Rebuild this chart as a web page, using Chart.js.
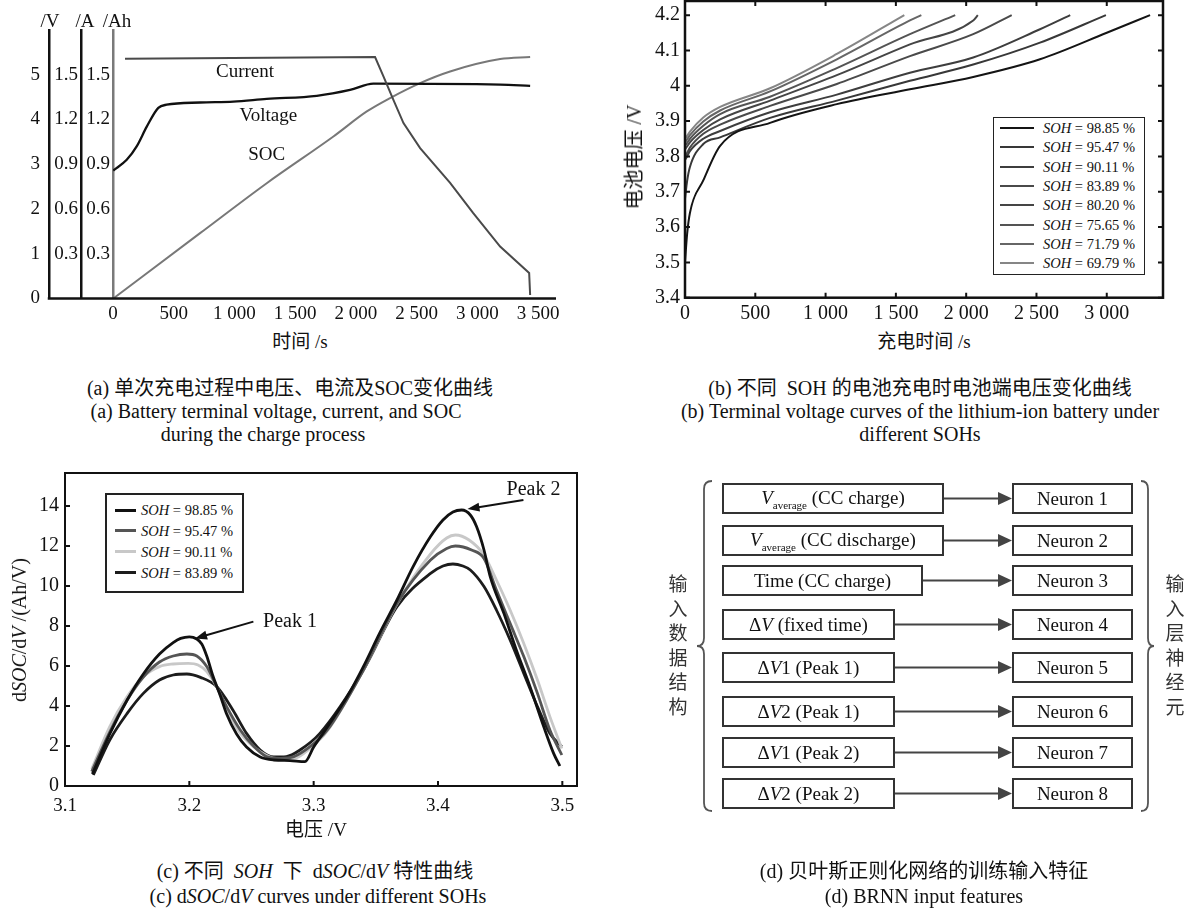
<!DOCTYPE html>
<html>
<head>
<meta charset="utf-8">
<title>charge curves</title>
<script src="https://cdn.jsdelivr.net/npm/chart.js@4/dist/chart.umd.min.js"></script>
<style>
body { margin: 0; background: #fff; }
#page { position: relative; width: 1190px; height: 913px; overflow: hidden; background: #fff;
        font-family: "Liberation Serif", "Noto Sans CJK SC", serif; color: #111; }
canvas { position: absolute; }
.t { position: absolute; white-space: nowrap; transform: translate(-50%, -50%); line-height: 1; }
.rot { transform: translate(-50%, -50%) rotate(-90deg); }
.leg { position: absolute; background: #fff; box-sizing: border-box; border: 1.5px solid #222; }
.leg .ln { position: absolute; }
.leg .tx { position: absolute; white-space: nowrap; line-height: 1; transform: translateY(-50%); }
.box { position: absolute; box-sizing: border-box; border: 2px solid #333; height: 31px;
       display: flex; align-items: center; justify-content: center; font-size: 19px; white-space: nowrap;
       font-family: "Liberation Serif", serif; color: #111; }
.box sub { font-size: 11px; vertical-align: -5px; }
.vt { position: absolute; width: 20px; font-size: 19px; line-height: 24.5px; text-align: center;
      font-family: "Noto Sans CJK SC", sans-serif; color: #333; }
</style>
</head>
<body>
<div id="page">
  <canvas id="ca" width="580" height="330" style="left:0;top:0"></canvas>
  <canvas id="cb" width="590" height="330" style="left:600px;top:0"></canvas>
  <canvas id="cc" width="590" height="360" style="left:0;top:460px"></canvas>

  <!-- (a) texts -->
  <div class="t" style="left:50px;top:20px;font-size:19px">/V</div>
  <div class="t" style="left:85px;top:20px;font-size:19px">/A</div>
  <div class="t" style="left:117px;top:20px;font-size:19px">/Ah</div>
  <div class="t" style="left:300px;top:341px;font-size:19px">时间 /s</div>
  <div class="t" style="left:290px;top:388px;font-size:20px">(a) 单次充电过程中电压、电流及SOC变化曲线</div>
  <div class="t" style="left:276px;top:411px;font-size:20px">(a) Battery terminal voltage, current, and SOC</div>
  <div class="t" style="left:263px;top:434px;font-size:20px">during the charge process</div>

  <!-- (b) texts -->
  <div class="t rot" style="left:634px;top:157px;font-size:20px">电池电压 /V</div>
  <div class="t" style="left:924px;top:341px;font-size:19px">充电时间 /s</div>
  <div class="t" style="left:920px;top:388px;font-size:20px">(b) 不同&nbsp; SOH 的电池充电时电池端电压变化曲线</div>
  <div class="t" style="left:920px;top:411px;font-size:20px">(b) Terminal voltage curves of the lithium-ion battery under</div>
  <div class="t" style="left:920px;top:434px;font-size:20px">different SOHs</div>
  <div class="leg" id="legb" style="left:993px;top:117px;width:152px;height:158px"></div>

  <!-- (c) texts -->
  <div class="t rot" style="left:19px;top:630px;font-size:20px">d<i>SOC</i>/d<i>V</i> /(Ah/V)</div>
  <div class="t" style="left:316px;top:829px;font-size:19px">电压 /V</div>
  <div class="t" style="left:315px;top:871px;font-size:20px">(c) 不同&nbsp; <i>SOH</i>&nbsp; 下&nbsp; d<i>SOC</i>/d<i>V</i> 特性曲线</div>
  <div class="t" style="left:318px;top:896px;font-size:20px">(c) d<i>SOC</i>/d<i>V</i> curves under different SOHs</div>
  <div class="leg" id="legc" style="left:105px;top:493px;width:139px;height:100px;border-width:2px"></div>

  <!-- (d) diagram -->
  <div id="diag"></div>
  <div class="t" style="left:924px;top:871px;font-size:20px">(d) 贝叶斯正则化网络的训练输入特征</div>
  <div class="t" style="left:924px;top:896px;font-size:20px">(d) BRNN input features</div>
</div>

<script>
// (a) single charge: current / voltage / SOC
var aXTicks = [0, 500, 1000, 1500, 2000, 2500, 3000, 3500];
var aVTicks = [0, 1, 2, 3, 4, 5];
var aATicks = [0.3, 0.6, 0.9, 1.2, 1.5];
var aCurTime = [99, 2158, 2227, 2309, 2392, 2529, 2776, 2965, 3188, 3427, 3435];
var aCurrent = [1.607, 1.619, 1.489, 1.332, 1.176, 1.008, 0.775, 0.574, 0.348, 0.171, 0.023];
var aVoltTime = [2, 113, 195, 278, 373, 442, 717, 991, 1266, 1678, 1952, 2144, 3188, 3435];
var aVoltage = [2.86, 3.10, 3.40, 3.84, 4.26, 4.33, 4.38, 4.40, 4.46, 4.53, 4.66, 4.80, 4.78, 4.75];
var aSocTime = [2, 717, 1266, 1815, 2090, 2282, 2529, 2776, 3188, 3435];
var aSoc = [0, 0.438, 0.773, 1.086, 1.254, 1.344, 1.444, 1.522, 1.605, 1.619];
var aNotes = ['Current', 'Voltage', 'SOC'];
var aNoteTime = [1087, 1279, 1266];
var aNoteVolt = [5.06, 4.08, 3.21];

// (b) terminal voltage for different SOH
var bSoh = ['98.85', '95.47', '90.11', '83.89', '80.20', '75.65', '71.79', '69.79'];
var bXTicks = [0, 500, 1000, 1500, 2000, 2500, 3000];
var bYTicks = [3.4, 3.5, 3.6, 3.7, 3.8, 3.9, 4.0, 4.1, 4.2];
var bTimes = [0, 15, 35, 130, 250, 605, 1080, 1600, 2050, 2525, 3000];
var bV9885 = [3.50, 3.58, 3.64, 3.732, 3.83, 3.895, 3.948, 3.990, 4.025, 4.075, 4.150];
var bV9547 = [3.68, 3.73, 3.77, 3.835, 3.854, 3.909, 3.958, 4.014, 4.060, 4.122, null];
var bV9011 = [3.79, 3.80, 3.815, 3.850, 3.872, 3.925, 3.975, 4.037, 4.080, 4.160, null];
var bV8389 = [3.80, 3.81, 3.825, 3.864, 3.890, 3.943, 4.005, 4.084, 4.146, null, null];
var bV8020 = [3.82, 3.828, 3.84, 3.875, 3.905, 3.958, 4.030, 4.117, 4.185, null, null];
var bV7565 = [3.83, 3.838, 3.85, 3.887, 3.920, 3.969, 4.050, 4.146, null, null, null];
var bV7179 = [3.84, 3.848, 3.86, 3.899, 3.930, 3.984, 4.075, 4.185, null, null, null];
var bV6979 = [3.85, 3.858, 3.87, 3.910, 3.940, 3.993, 4.090, null, null, null, null];
var bEndTime = [3308, 2994, 2740, 2324, 2083, 1922, 1681, 1560];
var bEndVolt = [4.2, 4.2, 4.2, 4.2, 4.2, 4.2, 4.2, 4.2];

// (c) dSOC/dV
var cSoh = ['98.85', '95.47', '90.11', '83.89'];
var cXTicks = [3.1, 3.2, 3.3, 3.4, 3.5];
var cYTicks = [0, 2, 4, 6, 8, 10, 12, 14];
var cV9885 = [3.122, 3.136, 3.150, 3.163, 3.176, 3.187, 3.193, 3.200, 3.206, 3.210, 3.214, 3.219, 3.225, 3.230, 3.238, 3.246, 3.257, 3.268, 3.281, 3.293, 3.300, 3.311, 3.327, 3.340, 3.353, 3.367, 3.380, 3.394, 3.404, 3.412, 3.419, 3.426, 3.431, 3.437, 3.442, 3.453, 3.463, 3.474, 3.485, 3.493, 3.498];
var cD9885 = [0.6, 2.6, 4.3, 5.6, 6.6, 7.17, 7.38, 7.46, 7.35, 7.1, 6.5, 5.5, 4.5, 3.6, 2.6, 1.95, 1.45, 1.3, 1.27, 1.22, 1.95, 2.95, 4.47, 5.97, 7.63, 9.3, 10.97, 12.47, 13.3, 13.7, 13.8, 13.55, 12.97, 11.8, 10.47, 8.63, 6.8, 4.97, 2.97, 1.63, 1.0];
var cV9547 = [3.1215, 3.136, 3.150, 3.163, 3.176, 3.187, 3.198, 3.206, 3.214, 3.222, 3.230, 3.241, 3.252, 3.262, 3.273, 3.284, 3.297, 3.311, 3.340, 3.367, 3.394, 3.407, 3.414, 3.427, 3.437, 3.447, 3.458, 3.469, 3.480, 3.490, 3.4996];
var cD9547 = [0.72, 2.7, 4.3, 5.45, 6.2, 6.5, 6.6, 6.5, 5.97, 4.97, 3.97, 2.8, 1.97, 1.47, 1.38, 1.47, 1.97, 2.8, 5.8, 9.13, 11.3, 11.88, 12.0, 11.8, 11.38, 9.8, 8.13, 6.47, 4.63, 2.8, 1.55];
var cV9011 = [3.1215, 3.136, 3.150, 3.163, 3.176, 3.187, 3.199, 3.207, 3.214, 3.222, 3.230, 3.241, 3.257, 3.270, 3.284, 3.297, 3.311, 3.340, 3.367, 3.394, 3.407, 3.414, 3.425, 3.437, 3.447, 3.458, 3.469, 3.480, 3.490, 3.4996];
var cD9011 = [0.85, 2.97, 4.47, 5.47, 5.97, 6.1, 6.13, 6.05, 5.72, 4.97, 3.8, 2.63, 1.72, 1.38, 1.38, 1.88, 2.75, 5.8, 9.1, 11.6, 12.4, 12.55, 12.3, 11.55, 10.3, 8.8, 7.13, 5.3, 3.47, 1.88];
var cV8389 = [3.1228, 3.136, 3.150, 3.163, 3.176, 3.187, 3.198, 3.209, 3.222, 3.235, 3.246, 3.257, 3.268, 3.278, 3.289, 3.305, 3.340, 3.367, 3.394, 3.404, 3.412, 3.420, 3.426, 3.437, 3.447, 3.458, 3.469, 3.480, 3.490, 3.4996];
var cD8389 = [0.55, 2.3, 3.63, 4.63, 5.3, 5.55, 5.6, 5.43, 4.97, 3.8, 2.63, 1.8, 1.45, 1.47, 1.8, 2.63, 5.8, 8.97, 10.63, 11.0, 11.1, 11.0, 10.8, 9.97, 8.8, 7.3, 5.63, 3.97, 2.63, 1.97];
var cNotes = ['Peak 1', 'Peak 2'];
var cNoteAt = [[3.281, 8.22], [3.4768, 14.83]];
var cArrowFrom = [[3.2515, 8.22], [3.4687, 14.3]];
var cArrowTo = [[3.2046, 7.38], [3.4237, 13.85]];

// (d) BRNN inputs
var dFeatures = ['<i>V</i><sub>average</sub> (CC charge)', '<i>V</i><sub>average</sub> (CC discharge)', 'Time (CC charge)',
  '&Delta;<i>V</i> (fixed time)', '&Delta;<i>V</i>1 (Peak 1)', '&Delta;<i>V</i>2 (Peak 1)', '&Delta;<i>V</i>1 (Peak 2)', '&Delta;<i>V</i>2 (Peak 2)'];
var dNeurons = ['Neuron 1', 'Neuron 2', 'Neuron 3', 'Neuron 4', 'Neuron 5', 'Neuron 6', 'Neuron 7', 'Neuron 8'];

var FONT = '"Liberation Serif", "Noto Sans CJK SC", serif';
Chart.defaults.font.family = FONT;
Chart.defaults.color = '#111';

function pts(xs, ys) {
  var out = [];
  for (var i = 0; i < xs.length; i++) {
    if (ys[i] != null) out.push({x: xs[i], y: ys[i]});
  }
  return out;
}
function fmt(v) {
  if (v >= 1000) return Math.floor(v / 1000) + ' ' + String(v % 1000).padStart(3, '0');
  return String(v);
}
function setTicks(list) {
  return function(scale) { scale.ticks = list.map(function(v) { return {value: v}; }); };
}
// fixed axis sizes, no extra label padding pushed into the chart area
function fixH(h) {
  return function(s) { s.height = h; s.paddingLeft = 0; s.paddingRight = 0; };
}
function fixW(w) {
  return function(s) { s.width = w; s.paddingTop = 0; s.paddingBottom = 0; };
}
var noGrid = {display: false, drawTicks: false};

// frame with inward ticks
function frameTicks(key, lw, len, both) {
  return {
    id: 'frame' + key,
    afterDatasetsDraw: function(chart) {
      var ctx = chart.ctx, a = chart.chartArea, sx = chart.scales.x, sy = chart.scales.y;
      ctx.save();
      ctx.strokeStyle = '#111';
      ctx.lineWidth = lw;
      ctx.strokeRect(a.left, a.top, a.right - a.left, a.bottom - a.top);
      ctx.lineWidth = 2;
      ctx.beginPath();
      sx.ticks.forEach(function(t) {
        var px = sx.getPixelForValue(t.value);
        ctx.moveTo(px, a.bottom); ctx.lineTo(px, a.bottom - len);
        if (both) { ctx.moveTo(px, a.top); ctx.lineTo(px, a.top + len); }
      });
      sy.ticks.forEach(function(t) {
        var py = sy.getPixelForValue(t.value);
        ctx.moveTo(a.left, py); ctx.lineTo(a.left + len, py);
        if (both) { ctx.moveTo(a.right, py); ctx.lineTo(a.right - len, py); }
      });
      ctx.stroke();
      ctx.restore();
    }
  };
}

// ---------- (a)
var aDecor = {
  id: 'aDecor',
  afterDraw: function(chart) {
    var ctx = chart.ctx, a = chart.chartArea, s = chart.scales;
    ctx.save();
    ctx.strokeStyle = '#111';
    ctx.lineWidth = 2.5;
    ctx.beginPath();
    ctx.moveTo(s.yV.right - 1.25, a.bottom);
    ctx.lineTo(a.right, a.bottom);
    ctx.stroke();
    ctx.fillStyle = '#111';
    ctx.font = '19px ' + FONT;
    ctx.textAlign = 'center';
    ctx.textBaseline = 'middle';
    for (var i = 0; i < aNotes.length; i++) {
      ctx.fillText(aNotes[i], s.x.getPixelForValue(aNoteTime[i]), s.yV.getPixelForValue(aNoteVolt[i]));
    }
    ctx.restore();
  }
};

function leftAxis(weight, max, width, ticks, pad, color, dec) {
  return {
    position: 'left', weight: weight, min: 0, max: max,
    grid: noGrid,
    border: {color: color, width: 2.5},
    afterBuildTicks: setTicks(ticks),
    afterFit: fixW(width),
    ticks: {autoSkip: false, padding: pad, font: {size: 19},
      callback: function(v) { return dec ? v.toFixed(1) : String(v); }}
  };
}

new Chart(document.getElementById('ca'), {
  type: 'line',
  data: {
    datasets: [
      {label: 'Current', data: pts(aCurTime, aCurrent), yAxisID: 'yA', borderColor: '#4a4a4a', borderWidth: 2, pointRadius: 0, tension: 0},
      {label: 'Voltage', data: pts(aVoltTime, aVoltage), yAxisID: 'yV', borderColor: '#111', borderWidth: 2.3, pointRadius: 0, cubicInterpolationMode: 'monotone'},
      {label: 'SOC', data: pts(aSocTime, aSoc), yAxisID: 'yAh', borderColor: '#787878', borderWidth: 2, pointRadius: 0, cubicInterpolationMode: 'monotone'}
    ]
  },
  options: {
    responsive: false, animation: false, events: [],
    layout: {padding: {left: 0, top: 30, right: 24, bottom: 0}},
    plugins: {legend: {display: false}, tooltip: {enabled: false}},
    scales: {
      x: {type: 'linear', min: 0, max: 3648,
        grid: noGrid, border: {display: false},
        afterBuildTicks: setTicks(aXTicks),
        afterFit: fixH(31.5),
        ticks: {autoSkip: false, maxRotation: 0, padding: 4, font: {size: 19}, callback: function(v) { return fmt(v); }}},
      yV: leftAxis(2, 6, 49, aVTicks, 9, '#111', false),
      yA: leftAxis(1, 1.8, 32, aATicks, 3, '#111', true),
      yAh: leftAxis(0, 1.8, 32, aATicks, 3, '#7a7a7a', true)
    }
  },
  plugins: [aDecor]
});

// ---------- (b)
var bColors = ['#141414', '#383838', '#3e3e3e', '#4a4a4a', '#454545', '#545454', '#666666', '#868686'];
var bVolts = [bV9885, bV9547, bV9011, bV8389, bV8020, bV7565, bV7179, bV6979];
var bSets = bSoh.map(function(s, i) {
  var d = pts(bTimes, bVolts[i]);
  d.push({x: bEndTime[i], y: bEndVolt[i]});
  return {label: 'SOH = ' + s + ' %', data: d, borderColor: bColors[i], borderWidth: 2,
    pointRadius: 0, cubicInterpolationMode: 'monotone'};
});

new Chart(document.getElementById('cb'), {
  type: 'line',
  data: {datasets: bSets},
  options: {
    responsive: false, animation: false, events: [],
    layout: {padding: {left: 0, top: 1, right: 27, bottom: 0}},
    plugins: {legend: {display: false}, tooltip: {enabled: false}},
    scales: {
      x: {type: 'linear', min: 0, max: 3400,
        grid: noGrid, border: {display: false},
        afterBuildTicks: setTicks(bXTicks),
        afterFit: fixH(32.3),
        ticks: {autoSkip: false, maxRotation: 0, padding: 4, font: {size: 20}, callback: function(v) { return fmt(v); }}},
      y: {min: 3.4, max: 4.24,
        grid: noGrid, border: {display: false},
        afterBuildTicks: setTicks(bYTicks),
        afterFit: fixW(85),
        ticks: {autoSkip: false, padding: 5, font: {size: 20}, callback: function(v) { return String(Math.round(v * 10) / 10); }}}
    }
  },
  plugins: [frameTicks('b', 2.5, 5, true)]
});

// ---------- (c)
var cColors = ['#111111', '#555555', '#c8c8c8', '#1c1c1c'];
var cVolts = [cV9885, cV9547, cV9011, cV8389];
var cDsoc = [cD9885, cD9547, cD9011, cD8389];
var cSets = cSoh.map(function(s, i) {
  return {label: 'SOH = ' + s + ' %', data: pts(cVolts[i], cDsoc[i]), borderColor: cColors[i], borderWidth: 2.8,
    pointRadius: 0, cubicInterpolationMode: 'monotone'};
});

var cNotesPlugin = {
  id: 'cNotes',
  afterDatasetsDraw: function(chart) {
    var ctx = chart.ctx, sx = chart.scales.x, sy = chart.scales.y;
    ctx.save();
    ctx.strokeStyle = '#111';
    ctx.fillStyle = '#111';
    ctx.lineWidth = 2;
    for (var i = 0; i < cNotes.length; i++) {
      var x1 = sx.getPixelForValue(cArrowFrom[i][0]), y1 = sy.getPixelForValue(cArrowFrom[i][1]);
      var x2 = sx.getPixelForValue(cArrowTo[i][0]), y2 = sy.getPixelForValue(cArrowTo[i][1]);
      var ang = Math.atan2(y2 - y1, x2 - x1);
      ctx.beginPath();
      ctx.moveTo(x1, y1);
      ctx.lineTo(x2 - 8 * Math.cos(ang), y2 - 8 * Math.sin(ang));
      ctx.stroke();
      ctx.beginPath();
      ctx.moveTo(x2, y2);
      ctx.lineTo(x2 - 12 * Math.cos(ang) + 4.5 * Math.sin(ang), y2 - 12 * Math.sin(ang) - 4.5 * Math.cos(ang));
      ctx.lineTo(x2 - 12 * Math.cos(ang) - 4.5 * Math.sin(ang), y2 - 12 * Math.sin(ang) + 4.5 * Math.cos(ang));
      ctx.closePath();
      ctx.fill();
      ctx.font = '20px ' + FONT;
      ctx.textAlign = 'center';
      ctx.textBaseline = 'middle';
      ctx.fillText(cNotes[i], sx.getPixelForValue(cNoteAt[i][0]), sy.getPixelForValue(cNoteAt[i][1]));
    }
    ctx.restore();
  }
};

new Chart(document.getElementById('cc'), {
  type: 'line',
  data: {datasets: cSets},
  options: {
    responsive: false, animation: false, events: [],
    layout: {padding: {left: 0, top: 13, right: 13, bottom: 0}},
    plugins: {legend: {display: false}, tooltip: {enabled: false}},
    scales: {
      x: {type: 'linear', min: 3.1, max: 3.5118,
        grid: noGrid, border: {display: false},
        afterBuildTicks: setTicks(cXTicks),
        afterFit: fixH(34),
        ticks: {autoSkip: false, maxRotation: 0, padding: 9, font: {size: 19}, callback: function(v) { return v.toFixed(1); }}},
      y: {min: 0, max: 15.65,
        grid: noGrid, border: {display: false},
        afterBuildTicks: setTicks(cYTicks),
        afterFit: fixW(65),
        ticks: {autoSkip: false, padding: 6, font: {size: 20}}}
    }
  },
  plugins: [frameTicks('c', 2, 5, false), cNotesPlugin]
});

// ---------- html legends
function buildLegend(el, labels, colors, rowTop, rowGap, lineLeft, lineW, lineH, textLeft, size) {
  labels.forEach(function(s, i) {
    var y = rowTop + i * rowGap;
    var ln = document.createElement('div');
    ln.className = 'ln';
    ln.style.cssText = 'left:' + lineLeft + 'px;top:' + (y - lineH / 2) + 'px;width:' + lineW + 'px;height:' + lineH + 'px;background:' + colors[i];
    el.appendChild(ln);
    var tx = document.createElement('div');
    tx.className = 'tx';
    tx.style.cssText = 'left:' + textLeft + 'px;top:' + y + 'px;font-size:' + size + 'px';
    tx.innerHTML = '<i>SOH</i> = ' + s + ' %';
    el.appendChild(tx);
  });
}
buildLegend(document.getElementById('legb'), bSoh, bColors, 10, 19.3, 6, 34, 2, 49, 14.5);
buildLegend(document.getElementById('legc'), cSoh, cColors, 15, 20.9, 8, 21, 3, 34, 14.5);

// ---------- (d) diagram
var dRowTop = [483, 525, 565, 609, 652, 696, 737, 778];
var dBoxRight = [944, 944, 923, 895, 895, 895, 895, 895];
var diag = document.getElementById('diag');
var svg = '<svg width="1190" height="913" style="position:absolute;left:0;top:0" xmlns="http://www.w3.org/2000/svg">';
svg += '<path d="M712 481 Q704 481 704 489 L704 638 Q704 646 697 646 Q704 646 704 654 L704 803 Q704 811 712 811" fill="none" stroke="#555" stroke-width="1.8"/>';
svg += '<path d="M1141 481 Q1148 481 1148 489 L1148 638 Q1148 646 1154 646 Q1148 646 1148 654 L1148 803 Q1148 811 1141 811" fill="none" stroke="#555" stroke-width="1.8"/>';
dRowTop.forEach(function(top, i) {
  var y = top + 15.5;
  svg += '<line x1="' + dBoxRight[i] + '" y1="' + y + '" x2="1001" y2="' + y + '" stroke="#444" stroke-width="2"/>';
  svg += '<polygon points="998,' + (y - 6.5) + ' 1012,' + y + ' 998,' + (y + 6.5) + '" fill="#444"/>';
});
svg += '</svg>';
var html = svg;
dRowTop.forEach(function(top, i) {
  html += '<div class="box" style="left:722px;top:' + top + 'px;width:' + (dBoxRight[i] - 722) + 'px"><span>' + dFeatures[i] + '</span></div>';
  html += '<div class="box" style="left:1012px;top:' + top + 'px;width:121px"><span>' + dNeurons[i] + '</span></div>';
});
html += '<div class="vt" style="left:668px;top:571px">输<br>入<br>数<br>据<br>结<br>构</div>';
html += '<div class="vt" style="left:1165px;top:571px">输<br>入<br>层<br>神<br>经<br>元</div>';
diag.innerHTML = html;
</script>
</body>
</html>
